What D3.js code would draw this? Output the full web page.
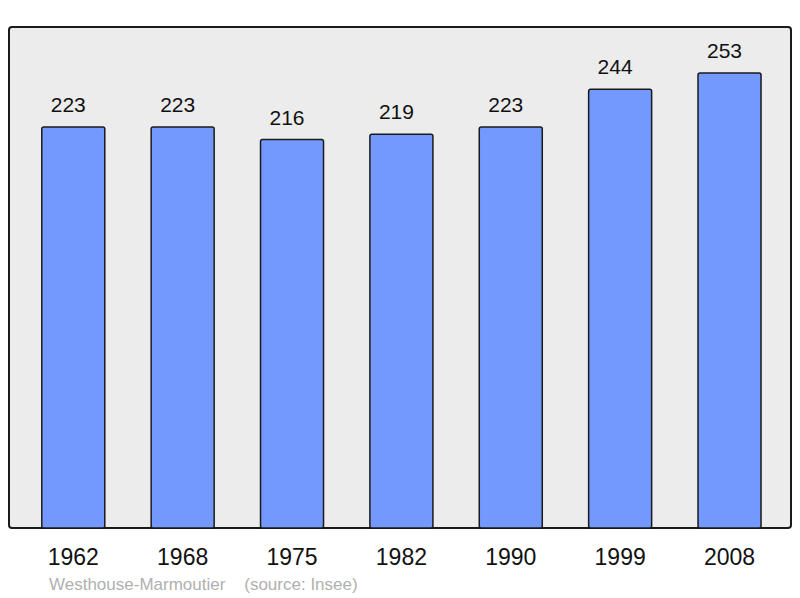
<!DOCTYPE html>
<html>
<head>
<meta charset="utf-8">
<script src="https://cdn.jsdelivr.net/npm/d3@7"></script>
<style>
  body { margin: 0; background: #fff; }
  svg { display: block; font-family: "Liberation Sans", Arial, sans-serif; }
</style>
</head>
<body>
<div id="chart"></div>
<script>
const years = ["1962", "1968", "1975", "1982", "1990", "1999", "2008"];
const population = [223, 223, 216, 219, 223, 244, 253];
const commune = "Westhouse-Marmoutier";
const source = "(source: Insee)";

const width = 800;
const height = 598;
const panel = { left: 9, top: 27, right: 791, bottom: 528 };

const svg = d3.select("#chart").append("svg")
    .attr("width", width)
    .attr("height", height);

// ---- Scales ----
const x = d3.scaleBand()
    .domain(years)
    .range([18.6, 784.2])
    .paddingInner(0.424)
    .paddingOuter(0.212);

const y = d3.scaleLinear()
    .domain([0, 278.6])
    .range([panel.bottom, panel.top]);

// ---- Panel ----
svg.append("rect")
    .attr("x", panel.left)
    .attr("y", panel.top)
    .attr("width", panel.right - panel.left)
    .attr("height", panel.bottom - panel.top)
    .attr("rx", 3)
    .attr("fill", "#ececec")
    .attr("stroke", "#1a1a1a")
    .attr("stroke-width", 2);

const data = years.map((year, i) => ({ year, value: population[i] }));

// ---- Bars ----
svg.selectAll(".bar")
    .data(data)
    .enter()
    .append("rect")
    .attr("class", "bar")
    .attr("x", d => x(d.year))
    .attr("y", d => y(d.value))
    .attr("width", x.bandwidth())
    .attr("height", d => y(0) - y(d.value))
    .attr("rx", 2)
    .attr("fill", "#7399ff")
    .attr("stroke", "#1a1a1a")
    .attr("stroke-width", 1.5);

// ---- Value labels (sit a little left of the bar centre) ----
svg.selectAll(".value")
    .data(data)
    .enter()
    .append("text")
    .attr("x", d => x(d.year) + x.bandwidth() / 2 - 5)
    .attr("y", d => y(d.value) - 15)
    .attr("text-anchor", "middle")
    .style("font-size", "21px")
    .attr("fill", "#111")
    .text(d => d.value);

// ---- Year axis ----
const axis = svg.append("g")
    .attr("transform", `translate(0, ${panel.bottom})`)
    .call(d3.axisBottom(x).tickSize(0).tickPadding(0));
axis.select(".domain").remove();
axis.selectAll("text")
    .attr("dy", null)
    .attr("y", 37)
    .style("font-size", "23px")
    .style("font-family", "Liberation Sans, Arial, sans-serif")
    .attr("fill", "#111");

// ---- Footer ----
svg.append("text")
    .attr("x", 49)
    .attr("y", 590)
    .style("font-size", "17px")
    .attr("fill", "#b0b0b0")
    .attr("xml:space", "preserve")
    .text(commune + "    " + source);
</script>
</body>
</html>
